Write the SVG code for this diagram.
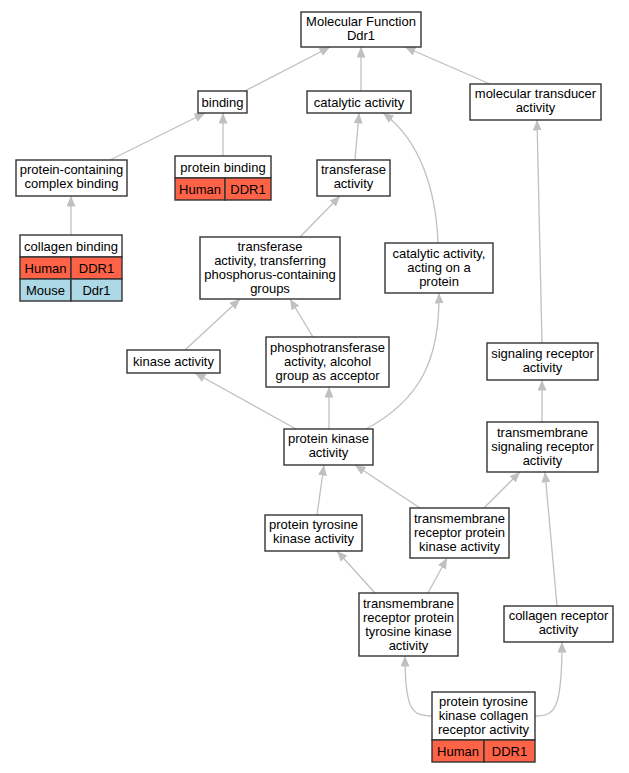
<svg xmlns="http://www.w3.org/2000/svg" width="629" height="773" viewBox="0 0 629 773">
<style>
.n rect{fill:#fff;stroke:#333;stroke-width:1.4}
rect.h{fill:#ff6347;stroke:#333;stroke-width:1.4}
rect.m{fill:#add8e6;stroke:#333;stroke-width:1.4}
text{font-family:"Liberation Sans",Arial,sans-serif;font-size:13px;fill:#000;text-anchor:middle}
.e path{fill:none;stroke:#c0c0c0;stroke-width:1.3;marker-end:url(#a)}
</style>
<defs>
<marker id="a" markerUnits="userSpaceOnUse" markerWidth="11" markerHeight="9" refX="10.5" refY="4.5" orient="auto">
<path d="M0,0 L10.5,4.5 L0,9 z" fill="#c0c0c0"/>
</marker>
</defs>
<rect width="629" height="773" fill="#fff"/>
<g class="e" id="connectors">
<path d="M245,91 L330,47"/>
<path d="M361,91 L361,47"/>
<path d="M490,84 L405,47"/>
<path d="M110,160 L205,113"/>
<path d="M223,156 L223,113"/>
<path d="M355,160 L359,113"/>
<path d="M438,243 C436,190 420,140 383,113"/>
<path d="M71,235 L71,196"/>
<path d="M300,237 L340,196"/>
<path d="M542,343 L537,120"/>
<path d="M185,350 L240,299"/>
<path d="M313,337 L290,299"/>
<path d="M296,429 L195,373"/>
<path d="M329,429 L329,387"/>
<path d="M366,429 C420,400 440,360 439,293"/>
<path d="M542,422 L542,380"/>
<path d="M317,515 L324,465"/>
<path d="M420,508 L355,465"/>
<path d="M484,508 L520,472"/>
<path d="M375,593 L337,551"/>
<path d="M428,593 L447,558"/>
<path d="M557,606 L545,472"/>
<path d="M432,716 C412,716 405,710 405,656"/>
<path d="M535,716 C555,716 562,710 562,642"/>
</g>
<g class="n" id="mf"><rect x="301" y="12" width="120" height="35"/><text x="361" y="26">Molecular Function</text><text x="361" y="40">Ddr1</text></g>
<g class="n" id="binding"><rect x="198" y="91" width="49" height="22"/><text x="222.5" y="106.5">binding</text></g>
<g class="n" id="catalytic"><rect x="307" y="91" width="104" height="22"/><text x="359" y="106.5">catalytic activity</text></g>
<g class="n" id="transducer"><rect x="470" y="84" width="131" height="36"/><text x="535.5" y="98">molecular transducer</text><text x="535.5" y="112">activity</text></g>
<g class="n" id="pccb"><rect x="16" y="160" width="111" height="36"/><text x="71.5" y="174">protein-containing</text><text x="71.5" y="188">complex binding</text></g>
<g class="n" id="pbinding"><rect x="175" y="156" width="96" height="22"/><text x="223" y="171.5">protein binding</text>
<rect class="h" x="175" y="178" width="50" height="22"/><rect class="h" x="225" y="178" width="46" height="22"/><text x="200" y="193.5">Human</text><text x="248" y="193.5">DDR1</text></g>
<g class="n" id="transferase"><rect x="317" y="160" width="73" height="36"/><text x="353.5" y="174">transferase</text><text x="353.5" y="188">activity</text></g>
<g class="n" id="collagenbinding"><rect x="20" y="235" width="102" height="22"/><text x="71" y="250.5">collagen binding</text>
<rect class="h" x="20" y="257" width="51" height="22"/><rect class="h" x="71" y="257" width="51" height="22"/><text x="45.5" y="272.5">Human</text><text x="96.5" y="272.5">DDR1</text>
<rect class="m" x="20" y="279" width="51" height="22"/><rect class="m" x="71" y="279" width="51" height="22"/><text x="45.5" y="294.5">Mouse</text><text x="96.5" y="294.5">Ddr1</text></g>
<g class="n" id="transferring"><rect x="200" y="237" width="140" height="62"/><text x="270" y="251">transferase</text><text x="270" y="265">activity, transferring</text><text x="270" y="279">phosphorus-containing</text><text x="270" y="293">groups</text></g>
<g class="n" id="catprotein"><rect x="385" y="243" width="108" height="50"/><text x="439" y="258">catalytic activity,</text><text x="439" y="272">acting on a</text><text x="439" y="286">protein</text></g>
<g class="n" id="kinase"><rect x="127" y="350" width="93" height="23"/><text x="173.5" y="366">kinase activity</text></g>
<g class="n" id="phospho"><rect x="266" y="337" width="123" height="50"/><text x="327.5" y="352">phosphotransferase</text><text x="327.5" y="366">activity, alcohol</text><text x="327.5" y="380">group as acceptor</text></g>
<g class="n" id="signaling"><rect x="487" y="343" width="111" height="37"/><text x="542.5" y="358">signaling receptor</text><text x="542.5" y="372">activity</text></g>
<g class="n" id="pk"><rect x="284" y="429" width="89" height="36"/><text x="328.5" y="443">protein kinase</text><text x="328.5" y="457">activity</text></g>
<g class="n" id="tmsig"><rect x="487" y="422" width="111" height="50"/><text x="542.5" y="437">transmembrane</text><text x="542.5" y="451">signaling receptor</text><text x="542.5" y="465">activity</text></g>
<g class="n" id="ptk"><rect x="265" y="515" width="97" height="36"/><text x="313.5" y="529">protein tyrosine</text><text x="313.5" y="543">kinase activity</text></g>
<g class="n" id="tmrpk"><rect x="410" y="508" width="99" height="50"/><text x="459.5" y="523">transmembrane</text><text x="459.5" y="537">receptor protein</text><text x="459.5" y="551">kinase activity</text></g>
<g class="n" id="tmrptk"><rect x="359" y="593" width="99" height="63"/><text x="408.5" y="607.5">transmembrane</text><text x="408.5" y="621.5">receptor protein</text><text x="408.5" y="635.5">tyrosine kinase</text><text x="408.5" y="649.5">activity</text></g>
<g class="n" id="collrec"><rect x="504" y="606" width="109" height="36"/><text x="558.5" y="620">collagen receptor</text><text x="558.5" y="634">activity</text></g>
<g class="n" id="ptkcoll"><rect x="432" y="692" width="103" height="48"/><text x="483.5" y="706">protein tyrosine</text><text x="483.5" y="720">kinase collagen</text><text x="483.5" y="734">receptor activity</text>
<rect class="h" x="432" y="740" width="52" height="22"/><rect class="h" x="484" y="740" width="51" height="22"/><text x="458" y="755.5">Human</text><text x="509.5" y="755.5">DDR1</text></g>
</svg>
